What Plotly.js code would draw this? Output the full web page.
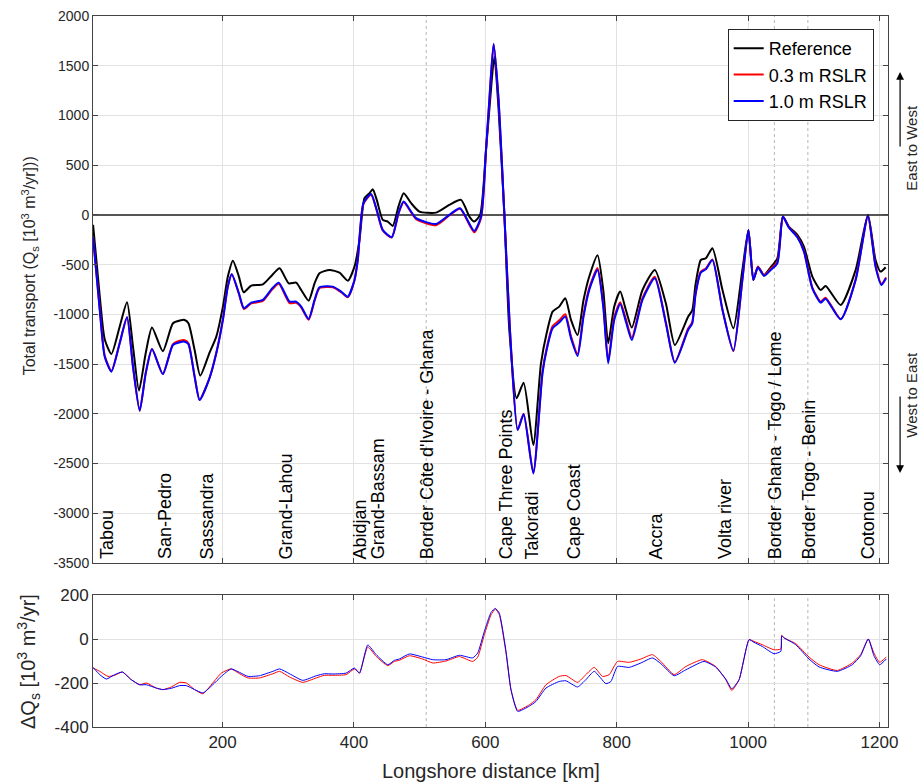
<!DOCTYPE html>
<html><head><meta charset="utf-8">
<script src="https://cdn.plot.ly/plotly-3.0.1.min.js"></script>
<style>html,body{margin:0;padding:0;background:#fff}#chart{width:920px;height:782px}</style>
</head><body><div id="chart"></div>
<script>
// Reference total transport (top panel, black)
const refX = [2.8,13,20.5,30.7,43.3,54.5,63.6,72.7,83,92.5,109,124.4,135,142.2,148,157.4,166,180,190.4,200.5,208,215.7,224.8,232,243.6,261.3,275.6,286.7,300.8,312,319.7,331,340,347.5,362.7,378,390.6,400.8,408.4,416,423.6,428.6,434.7,443.8,451.4,459,467.7,475.7,487,499.6,525,545,563,575.7,583,592,601,606,613.7,620.2,629,636.5,647.6,658.3,673,684.7,693.3,702.4,712.5,721.7,730.4,740.4,749.5,758.2,770.8,779.5,787,796.2,805.3,814,823,839.2,858,874.8,888.5,908.7,915,920,928,935.7,945.7,961,977.6,991.3,1000.5,1008,1015,1024.3,1034.5,1044.6,1053,1062,1075,1085,1097.8,1110.6,1118,1141,1163.8,1182.5,1194,1201.8,1209.5];
const refQ = [-100,-820,-1250,-1398,-1124,-878,-1325,-1767,-1388,-1133,-1371,-1090,-1062,-1056,-1090,-1358,-1616,-1388,-1224,-922,-620,-460,-620,-778,-711,-698,-604,-537,-688,-681,-755,-862,-688,-587,-553,-580,-661,-520,-252,168,218,258,151,-50,-67,-111,84,218,118,33,23,100,151,-17,-67,0,654,1050,1593,1056,0,-1157,-1844,-1687,-2314,-1492,-1190,-972,-922,-838,-1056,-1207,-855,-620,-406,-755,-1291,-922,-771,-956,-1133,-755,-553,-889,-1308,-1023,-960,-700,-453,-436,-335,-755,-1140,-553,-151,-654,-526,-604,-526,-436,-17,-117,-201,-319,-620,-755,-714,-905,-553,0,-453,-570,-526];

// RSLR scenarios (top panel)
const rslrX = [2.8,13,20.5,30.7,43.3,54.5,63.6,73.8,83,92.5,109,124.4,135,142.2,148,157.4,165,180,190.4,200.5,208,214,224.8,232.4,243.6,261.3,275.6,285.6,302,312,319.7,331,340,347.5,367.8,380.5,390.6,400.8,405.8,414.4,426.1,434.7,443.8,457.5,467.7,475.7,494.6,525,545,561.5,583,593.5,601,606,612.6,620.2,629,637.5,649.2,658.3,673,687,693.3,702.4,712.5,721.7,730.4,740.4,749.5,758.2,770.8,779.5,787,796.2,805.3,814,823,839.2,858,874.8,888.5,908.7,915,920,928,935.7,945.7,961,977.6,991.3,1000.5,1008,1015,1024.3,1034.5,1044.6,1053,1062,1075,1085,1097.8,1110.6,1118,1141,1163.8,1182.5,1194,1203,1210];
const q03 = [-228,-945,-1413,-1569,-1290,-1030,-1526,-1969,-1585,-1348,-1600,-1300,-1265,-1260,-1290,-1626,-1858,-1640,-1386,-1045,-714,-597,-794,-946,-890,-865,-749,-692,-887,-885,-931,-1055,-865,-736,-727,-777,-829,-658,-453,110,203,42,-157,-228,11,126,-42,-103,-6,61,-175,-30,640,1140,1717,1150,-5,-1157,-2158,-1999,-2591,-1578,-1343,-1118,-1060,-999,-1220,-1397,-1000,-733,-535,-902,-1470,-1030,-877,-1050,-1235,-837,-622,-1080,-1481,-1142,-1078,-790,-570,-538,-447,-952,-1372,-654,-151,-650,-518,-606,-540,-472,-17,-122,-219,-360,-730,-872,-832,-1046,-646,-10,-508,-693,-628];
const q10 = [-225,-960,-1425,-1576,-1291,-1030,-1526,-1969,-1593,-1348,-1600,-1308,-1280,-1275,-1300,-1626,-1861,-1643,-1392,-1056,-721,-597,-788,-939,-882,-855,-738,-681,-872,-872,-922,-1046,-855,-728,-721,-771,-822,-654,-453,118,211,50,-151,-224,17,134,-33,-91,0,67,-161,-17,654,1150,1720,1157,0,-1157,-2163,-2005,-2599,-1593,-1358,-1140,-1083,-1023,-1241,-1418,-1023,-755,-553,-922,-1492,-1056,-895,-1073,-1258,-855,-637,-1090,-1486,-1157,-1090,-800,-580,-547,-453,-956,-1365,-654,-151,-654,-526,-614,-553,-486,-17,-127,-225,-369,-738,-882,-842,-1050,-654,-10,-520,-704,-637];

// Difference with reference (bottom panel)
const d03X = [2.8,13,25.6,35.7,47.4,61,73.8,84,99,109,122,134.6,144.8,157.4,170,185,198,213,225.9,238.5,256,276.5,286.7,302,322,342.5,355,367.8,388,400.8,408.4,421,433.8,451.4,461.6,469,484.4,504.6,520,540,560.5,580.7,588.3,598.5,608.7,615.2,621.3,631.5,639,649.2,667,677,692.3,712.5,722.7,740.4,753,765.8,778.4,788.6,801.2,819,836.8,854.4,867.2,887.5,905.2,930.5,950.8,966,975.2,986.3,1001.5,1009,1021.7,1039.5,1049.8,1051.2,1054.8,1072.5,1092.8,1108,1135.8,1158.6,1171.4,1183,1191.6,1200.3,1210.4];
const d03 = [-132,-147,-170,-165,-150,-185,-208,-200,-223,-230,-218,-197,-200,-230,-249,-200,-155,-136,-158,-177,-177,-158,-147,-173,-197,-177,-165,-165,-162,-136,-155,-36,-79,-121,-102,-97,-76,-91,-109,-100,-80,-102,-83,20,110,136,110,-64,-230,-324,-299,-276,-208,-170,-166,-197,-162,-129,-170,-162,-102,-106,-91,-71,-102,-162,-125,-94,-125,-185,-234,-185,-3,-11,-26,-49,-45,17,5,-21,-82,-117,-143,-109,-71,0,-64,-106,-82];
const d10X = [2.8,13,23,35.7,47.4,61,73.8,84,99,109,122,134.6,144.8,157.4,170,185,198,213,225.9,238.5,256,276.5,286.7,302,322,342.5,355,367.8,388,400.8,408.4,421,433.8,451.4,461.6,469,484.4,504.6,520,540,560.5,580.7,588.3,598.5,608.7,615.2,621.3,631.5,639,649.2,667,677,692.3,712.5,722.7,740.4,753,765.8,783.5,791.2,801.2,819,836.8,854.4,867.2,887.5,905.2,933,950.8,966,975.2,986.3,1001.5,1009,1021.7,1039.5,1049.8,1051.2,1054.8,1072.5,1092.8,1108,1135.8,1158.6,1171.4,1183,1191.6,1200.3,1210.4];
const d10 = [-129,-162,-182,-162,-150,-185,-208,-208,-223,-230,-224,-212,-212,-230,-245,-208,-170,-136,-152,-170,-167,-147,-136,-158,-188,-167,-158,-159,-155,-132,-155,-27,-71,-117,-97,-91,-68,-82,-94,-94,-74,-86,-64,35,121,139,117,-56,-230,-329,-305,-284,-223,-193,-190,-218,-185,-147,-203,-193,-125,-129,-109,-86,-112,-167,-140,-102,-128,-182,-226,-185,-3,-15,-34,-67,-56,14,5,-26,-91,-127,-147,-117,-76,0,-76,-117,-91];

// Places along the coast
const placeNames = ["Tabou","San-Pedro","Sassandra","Grand-Lahou","Abidjan","Grand-Bassam","Border Côte d'Ivoire - Ghana","Cape Three Points","Takoradi","Cape Coast","Accra","Volta river","Border Ghana - Togo / Lome","Border Togo - Benin","Cotonou"];
const placeX = [23,112,176,297,409.5,436,510.3,631.5,671.5,734.3,859.6,964.6,1041,1093,1182.5];
const borderX = [510, 1040, 1091];

// Tick labels
const xTicks = [200,400,600,800,1000,1200];
const xTickText = ["200","400","600","800","1000","1200"];
const yTicks = [-3500,-3000,-2500,-2000,-1500,-1000,-500,0,500,1000,1500,2000];
const yTickText = ["-3500","-3000","-2500","-2000","-1500","-1000","-500","0","500","1000","1500","2000"];
const y2Ticks = [-400,-200,0,200];
const y2TickText = ["-400","-200","0","200"];

const FONT = "Liberation Sans, Arial, Helvetica, sans-serif";
const AX = "#444";
const GRID = "#e2e2e2";

const traces = [
  {x: refX, y: refQ, name: "Reference", type: "scatter", mode: "lines", line: {color: "#000", width: 2, shape: "spline", smoothing: 0.6}, xaxis: "x", yaxis: "y"},
  {x: rslrX, y: q03, name: "0.3 m RSLR", type: "scatter", mode: "lines", line: {color: "#ff0000", width: 2, shape: "spline", smoothing: 0.6}, xaxis: "x", yaxis: "y"},
  {x: rslrX, y: q10, name: "1.0 m RSLR", type: "scatter", mode: "lines", line: {color: "#0000ff", width: 2, shape: "spline", smoothing: 0.6}, xaxis: "x", yaxis: "y"},
  {x: d03X, y: d03, name: "0.3 m RSLR", showlegend: false, type: "scatter", mode: "lines", line: {color: "#ff0000", width: 1, shape: "spline", smoothing: 0.5}, xaxis: "x2", yaxis: "y2"},
  {x: d10X, y: d10, name: "1.0 m RSLR", showlegend: false, type: "scatter", mode: "lines", line: {color: "#0000ff", width: 1, shape: "spline", smoothing: 0.5}, xaxis: "x2", yaxis: "y2"}
];

const shapes = [];
borderX.forEach(b => {
  shapes.push({type: "line", xref: "x", yref: "y domain", x0: b, x1: b, y0: 0, y1: 1, line: {color: "#b5b5b5", width: 1, dash: "dot"}, layer: "below"});
  shapes.push({type: "line", xref: "x2", yref: "y2 domain", x0: b, x1: b, y0: 0, y1: 1, line: {color: "#b5b5b5", width: 1, dash: "dot"}, layer: "below"});
});

const annotations = placeNames.map((n, i) => ({
  text: n, x: placeX[i], y: -3472, xref: "x", yref: "y", xanchor: "center", yanchor: "bottom",
  textangle: -90, showarrow: false, font: {family: FONT, size: 18, color: "#000"}, borderpad: 0
}));
annotations.push(
  {text: "Total transport (Q<sub>s</sub> [10<sup>3</sup> m<sup>3</sup>/yr]))", xref: "paper", yref: "paper", x: -0.0792, y: 0.648, xanchor: "center", yanchor: "middle", textangle: -90, showarrow: false, font: {family: FONT, size: 16, color: "#262626"}},
  {text: "ΔQ<sub>s</sub> [10<sup>3</sup> m<sup>3</sup>/yr]", xref: "paper", yref: "paper", x: -0.0818, y: 0.0928, xanchor: "center", yanchor: "middle", textangle: -90, showarrow: false, font: {family: FONT, size: 20, color: "#262626"}},
  {text: "Longshore distance [km]", xref: "paper", yref: "paper", x: 0.5, y: -0.062, xanchor: "center", yanchor: "middle", showarrow: false, font: {family: FONT, size: 20, color: "#262626"}},
  {text: "East to West", xref: "paper", yref: "paper", x: 1.0285, y: 0.8143, xanchor: "center", yanchor: "middle", textangle: -90, showarrow: false, borderpad: 0, font: {family: FONT, size: 15, color: "#262626"}},
  {text: "West to East", xref: "paper", yref: "paper", x: 1.0285, y: 0.4669, xanchor: "center", yanchor: "middle", textangle: -90, showarrow: false, borderpad: 0, font: {family: FONT, size: 15, color: "#262626"}},
  {text: "", xref: "paper", yref: "paper", x: 1.0152, y: 0.9212, ax: 0, ay: 76, showarrow: true, arrowhead: 2, arrowsize: 1.3, arrowwidth: 1.2, arrowcolor: "#000"},
  {text: "", xref: "paper", yref: "paper", x: 1.0152, y: 0.3572, ax: 0, ay: -78, showarrow: true, arrowhead: 2, arrowsize: 1.3, arrowwidth: 1.2, arrowcolor: "#000"}
);

const common = {ticks: "inside", ticklen: 5, tickcolor: AX, showline: true, linecolor: AX, linewidth: 1, mirror: "allticks", showgrid: true, gridcolor: GRID, gridwidth: 1};

const layout = {
  width: 920, height: 782,
  margin: {l: 93, r: 32, t: 16, b: 55},
  paper_bgcolor: "#fff", plot_bgcolor: "#fff",
  font: {family: FONT, color: "#262626"},
  showlegend: true,
  hovermode: false,
  legend: {x: 0.982, xanchor: "right", y: 0.9817, yanchor: "top", bgcolor: "#fff", bordercolor: "#262626", borderwidth: 1, font: {family: FONT, size: 18, color: "#000"}, tracegroupgap: 0},
  xaxis: Object.assign({}, common, {domain: [0, 1], anchor: "y", range: [2.7, 1213], tickvals: xTicks, ticktext: xTickText, showticklabels: false, zeroline: false}),
  yaxis: Object.assign({}, common, {domain: [0.23066, 1], anchor: "x", range: [-3500, 2000], tickvals: yTicks, ticktext: yTickText, tickfont: {size: 14, color: "#262626"}, zeroline: true, zerolinecolor: "#555", zerolinewidth: 1.5}),
  xaxis2: Object.assign({}, common, {domain: [0, 1], anchor: "y2", range: [2.7, 1213], tickvals: xTicks, ticktext: xTickText, tickfont: {size: 17, color: "#262626"}, zeroline: false}),
  yaxis2: Object.assign({}, common, {domain: [0, 0.18565], anchor: "x2", range: [-400, 200], tickvals: y2Ticks, ticktext: y2TickText, tickfont: {size: 17, color: "#262626"}, zeroline: false}),
  shapes: shapes,
  annotations: annotations
};

Plotly.newPlot("chart", traces, layout, {displayModeBar: false, staticPlot: true});
</script>
</body></html>
